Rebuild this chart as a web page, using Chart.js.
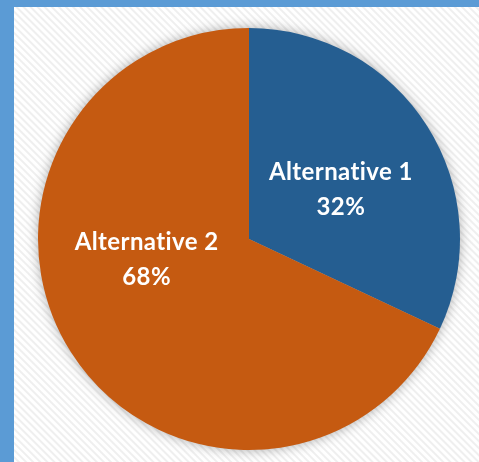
<!DOCTYPE html>
<html>
<head>
<meta charset="utf-8">
<script src="https://cdn.jsdelivr.net/npm/chart.js@4.4.1/dist/chart.umd.min.js"></script>
<style>
  html, body { margin: 0; padding: 0; }
  body { width: 479px; height: 462px; background: #5b9bd5; position: relative; overflow: hidden; }
  #panel {
    position: absolute; left: 14px; top: 7px; width: 465px; height: 455px;
    background: repeating-linear-gradient(45deg, #ffffff 0px, #ffffff 2px, #efefef 3px, #efefef 4px, #ffffff 5px);
  }
  #myChart { position: absolute; left: 0; top: 0; filter: drop-shadow(0 0 6px rgba(0,0,0,0.32)); }
</style>
</head>
<body>
<div id="panel"></div>
<canvas id="myChart" width="479" height="462"></canvas>
<script>
var labels = ['Alternative 1', 'Alternative 2'];
var values = [32, 68];
var colors = ['#255e91', '#c55a11'];

// label placement tweaks (degrees shifted from slice middle, fraction of radius)
var labelShift = [4, 21];
var labelRadius = 0.495;

var sliceLabels = {
    id: 'sliceLabels',
    afterDatasetsDraw: function (chart) {
        var ctx = chart.ctx;
        var meta = chart.getDatasetMeta(0);
        var total = values.reduce(function (a, b) { return a + b; }, 0);
        ctx.save();
        ctx.fillStyle = '#ffffff';
        ctx.font = 'bold 24px Lato';
        ctx.letterSpacing = '0.4px';
        ctx.textAlign = 'center';
        ctx.textBaseline = 'middle';
        meta.data.forEach(function (arc, i) {
            var mid = (arc.startAngle + arc.endAngle) / 2 + labelShift[i] * Math.PI / 180;
            var r = arc.outerRadius * labelRadius;
            var x = arc.x + Math.cos(mid) * r;
            var y = arc.y + Math.sin(mid) * r;
            ctx.fillText(labels[i], x, y - 17);
            ctx.fillText(Math.round(values[i] / total * 100) + '%', x, y + 18);
        });
        ctx.restore();
    }
};

new Chart(document.getElementById('myChart'), {
    type: 'pie',
    data: {
        labels: labels,
        datasets: [{
            data: values,
            backgroundColor: colors,
            borderWidth: 0,
            hoverOffset: 0
        }]
    },
    options: {
        responsive: false,
        animation: false,
        layout: { padding: { left: 38, top: 28, right: 19, bottom: 12 } },
        plugins: {
            legend: { display: false },
            tooltip: { enabled: false }
        }
    },
    plugins: [sliceLabels]
});
</script>
</body>
</html>
